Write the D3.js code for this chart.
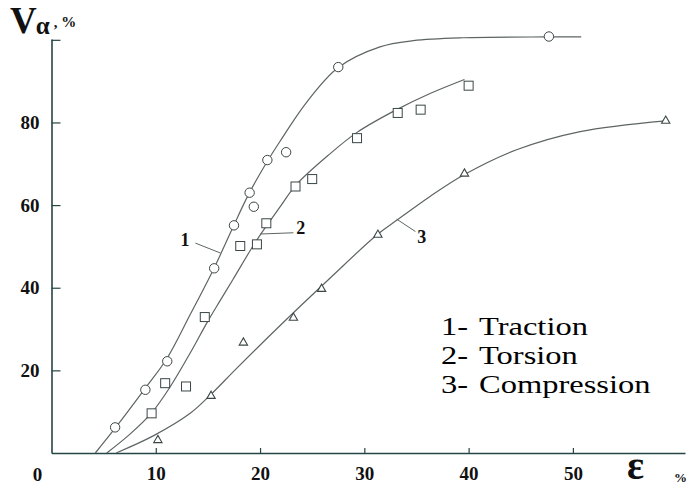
<!DOCTYPE html>
<html>
<head>
<meta charset="utf-8">
<script src="https://cdn.jsdelivr.net/npm/d3@7"></script>
<style>
  body { margin: 0; background: #fff; }
  svg { display: block; }
</style>
</head>
<body>
<svg id="chart" width="692" height="490"></svg>
<script>
// Axis ticks
const xTickValues = [10, 20, 30, 40, 50];
const yTickValues = [20, 40, 60, 80, 100];

// Measured points [strain ε %, V_α %]
const tractionPoints = [[6.1,6.2],[9.0,15.3],[11.1,22.2],[15.6,44.7],[17.5,55.1],[19.0,63.0],[19.4,59.6],[20.7,70.9],[22.5,72.8],[27.5,93.4],[47.7,100.8]];
const torsionPoints = [[9.6,9.6],[10.9,16.9],[12.9,16.1],[14.7,32.9],[18.1,50.1],[19.7,50.5],[20.6,55.6],[23.4,64.5],[25.0,66.3],[29.3,76.2],[33.2,82.3],[35.4,83.1],[40.0,88.9]];
const compressionPoints = [[10.2,3.1],[15.3,13.8],[18.4,26.7],[23.2,32.7],[25.9,39.7],[31.3,52.8],[39.6,67.6],[58.9,80.4]];

// Fitted curves
const tractionCurve = [[4.2,0],[6.1,6.0],[9.0,15.7],[11.1,23.0],[13.3,33.5],[15.6,44.8],[17.5,55.2],[18.9,62.6],[20.7,70.6],[21.9,75.4],[24.5,85.0],[27.5,93.3],[31.5,98.3],[34.7,99.8],[39.5,100.5],[47.5,100.7],[50.8,100.7]];
const torsionCurve = [[5.3,0],[7.5,4.5],[9.6,9.7],[11.4,16.1],[13.3,24.2],[14.9,31.5],[16.2,37.0],[17.4,42.0],[19.7,51.6],[21.9,59.5],[23.5,65.0],[26.7,72.4],[29.3,77.6],[33.1,83.1],[36.3,87.0],[39.6,90.4]];
const compressionCurve = [[6.2,0],[9.8,4.2],[13.3,9.6],[15.3,14.2],[17.8,20.6],[21.9,30.8],[26.7,42.3],[31.3,53.0],[33.2,56.5],[36.3,62.1],[39.6,67.4],[44.6,73.4],[50.7,77.8],[58.9,80.4]];

// Curve number labels: text position, leader line start and end
const curveLabels = [
  { text: "1", at: [12.8, 50.2], from: [13.8, 50.8], to: [16.2, 48.4] },
  { text: "2", at: [23.9, 53.0], from: [20.0, 53.0], to: [23.2, 53.3] },
  { text: "3", at: [35.5, 50.9], from: [33.1, 56.6], to: [34.9, 53.6] }
];

const legendItems = [["1-", "Traction"], ["2-", "Torsion"], ["3-", "Compression"]];

const svg = d3.select("#chart");
svg.append("rect").attr("width", 692).attr("height", 490).attr("fill", "#fff");

const x = d3.scaleLinear().domain([0, 60.75]).range([51.5, 685]);
const y = d3.scaleLinear().domain([0, 100.2]).range([453, 39]);

const axisColor = "#264545";
const serif = "'Liberation Serif', 'Times New Roman', serif";

// Y axis (ticks pointing inward)
const gy = svg.append("g")
  .attr("transform", `translate(${x(0)},0)`)
  .call(d3.axisLeft(y).tickValues(yTickValues).tickSizeInner(-9).tickSizeOuter(0).tickPadding(12)
    .tickFormat(d => d === 100 ? "" : d));
// X axis
const gx = svg.append("g")
  .attr("transform", `translate(0,${y(0)})`)
  .call(d3.axisBottom(x).tickValues(xTickValues).tickSizeInner(-5).tickSizeOuter(0).tickPadding(14));

[gx, gy].forEach(g => {
  g.select(".domain").attr("stroke", axisColor).attr("stroke-width", 1.6);
  g.selectAll(".tick line").attr("stroke", axisColor).attr("stroke-width", 1.2);
  g.selectAll(".tick text").attr("fill", "#111").attr("font-family", serif)
    .attr("font-weight", "bold").attr("font-size", 19);
});

// Origin label
svg.append("text").attr("x", x(0) - 14).attr("y", y(0) + 28)
  .attr("text-anchor", "middle").attr("font-family", serif).attr("font-weight", "bold")
  .attr("font-size", 19).attr("fill", "#111").text("0");

// Axis titles
const yTitle = svg.append("text").attr("x", 10).attr("y", 33).attr("font-family", serif)
  .attr("font-weight", "bold").attr("fill", "#111");
yTitle.append("tspan").attr("font-size", 37).text("V");
yTitle.append("tspan").attr("font-size", 25).attr("dx", -1).attr("dy", 1).text("α");
yTitle.append("tspan").attr("font-size", 15).attr("dx", 4).attr("dy", -7).text(", %");

svg.append("text").attr("x", 627).attr("y", 479).attr("font-family", serif)
  .attr("font-weight", "bold").attr("font-size", 40).attr("fill", "#111").text("ε");
svg.append("text").attr("x", 674).attr("y", 482).attr("font-family", serif)
  .attr("font-weight", "bold").attr("font-size", 13).attr("fill", "#111").text("%");

// Curves
const line = d3.line().x(d => x(d[0])).y(d => y(d[1])).curve(d3.curveCatmullRom.alpha(0.5));
[tractionCurve, torsionCurve, compressionCurve].forEach(c => {
  svg.append("path").datum(c).attr("d", line)
    .attr("fill", "none").attr("stroke", "#5e6464").attr("stroke-width", 1.2);
});

// Curve number labels
curveLabels.forEach(l => {
  svg.append("line").attr("x1", x(l.from[0])).attr("y1", y(l.from[1]))
    .attr("x2", x(l.to[0])).attr("y2", y(l.to[1]))
    .attr("stroke", "#5e6464").attr("stroke-width", 1);
  svg.append("text").attr("x", x(l.at[0])).attr("y", y(l.at[1]))
    .attr("text-anchor", "middle").attr("font-family", serif).attr("font-weight", "bold")
    .attr("font-size", 18).attr("fill", "#111").text(l.text);
});

// Markers
const markerStroke = "#3b4646";
svg.append("g").selectAll("circle").data(tractionPoints).join("circle")
  .attr("cx", d => x(d[0])).attr("cy", d => y(d[1])).attr("r", 4.7)
  .attr("fill", "#fff").attr("stroke", markerStroke).attr("stroke-width", 1);
svg.append("g").selectAll("rect").data(torsionPoints).join("rect")
  .attr("x", d => x(d[0]) - 4.5).attr("y", d => y(d[1]) - 4.5).attr("width", 9).attr("height", 9)
  .attr("fill", "#fff").attr("stroke", markerStroke).attr("stroke-width", 1);
const tri = d3.symbol().type(d3.symbolTriangle).size(30);
svg.append("g").selectAll("path").data(compressionPoints).join("path")
  .attr("transform", d => `translate(${x(d[0])},${y(d[1])})`).attr("d", tri)
  .attr("fill", "#fff").attr("stroke", markerStroke).attr("stroke-width", 1.1);

// Legend (widened serif text)
const legend = svg.append("g").attr("font-family", serif).attr("font-size", 26).attr("fill", "#000");
legendItems.forEach((item, i) => {
  const by = 335 + i * 29;
  legend.append("text").attr("transform", `translate(441,${by}) scale(1.25,1)`).text(item[0]);
  legend.append("text").attr("transform", `translate(479,${by}) scale(1.25,1)`).text(item[1]);
});
</script>
</body>
</html>
